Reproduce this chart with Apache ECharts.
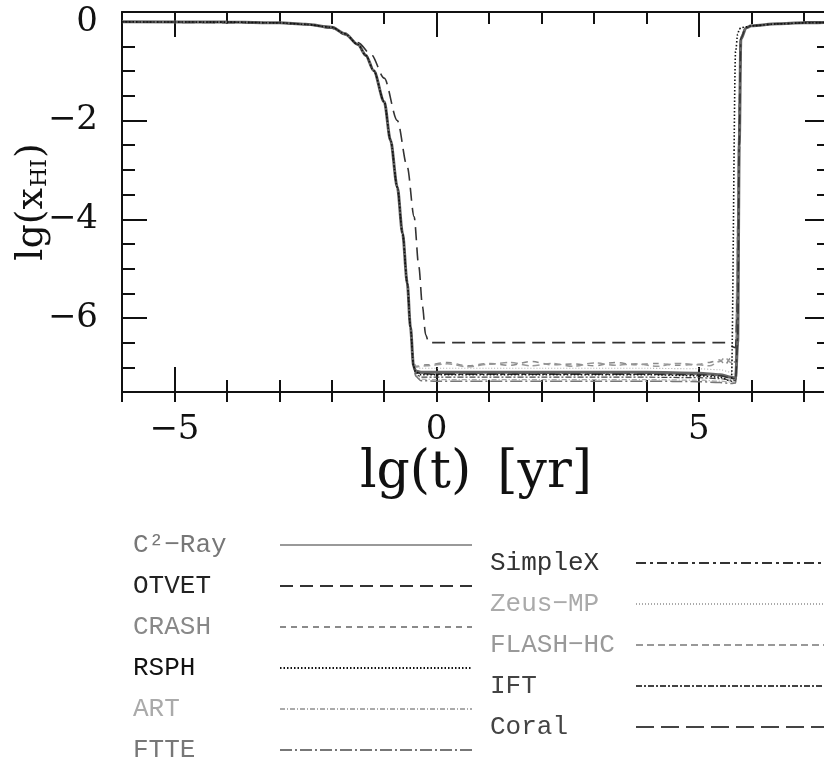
<!DOCTYPE html>
<html>
<head>
<meta charset="utf-8">
<script src="https://cdn.jsdelivr.net/npm/echarts@6/dist/echarts.min.js"></script>
<style>html,body{margin:0;padding:0;background:#fff}#chart{width:824px;height:764px}</style>
</head>
<body>
<div id="chart"></div>
<script>
// ---- data ----
const xTickLabels = [-5, 0, 5];
const yTickLabels = [0, -2, -4, -6];

const tMain = [-6, -4, -3, -2.5, -2, -1.75, -1.5, -1.35, -1.2, -1, -0.88, -0.75, -0.65, -0.56, -0.5, -0.44, -0.4, -0.3, 0, 1, 2, 3, 4, 5, 5.4, 5.62, 5.7, 5.74, 5.77, 5.8, 5.9, 6, 6.5, 7, 7.5];
const tNoisy = [-6, -4, -3, -2.5, -2, -1.75, -1.5, -1.35, -1.2, -1, -0.88, -0.75, -0.65, -0.56, -0.5, -0.44, -0.4, -0.2, 0.2, 0.6, 1.0, 1.4, 1.8, 2.2, 2.6, 3.0, 3.4, 3.8, 4.2, 4.6, 5.0, 5.2, 5.4, 5.5, 5.6, 5.7, 5.74, 5.77, 5.8, 5.9, 6, 6.5, 7, 7.5];
const tOtvet = [-6, -3, -2.5, -2, -1.75, -1.5, -1.25, -1, -0.75, -0.56, -0.43, -0.34, -0.27, -0.21, -0.15, 0, 2, 4, 5.5, 5.7, 5.74, 5.77, 5.8, 5.9, 6, 6.5, 7, 7.5];

const yC2Ray = [0, -0.005, -0.02, -0.05, -0.11, -0.24, -0.46, -0.68, -0.99, -1.62, -2.4, -3.35, -4.29, -5.3, -6.18, -6.98, -7.08, -7.1, -7.1, -7.1, -7.1, -7.1, -7.1, -7.12, -7.15, -7.2, -7.22, -6.5, -2.5, -0.35, -0.12, -0.08, -0.04, -0.02, -0.01];
const yOtvet = [0, -0.02, -0.05, -0.13, -0.26, -0.42, -0.66, -1.14, -2.0, -2.94, -3.95, -4.96, -5.77, -6.34, -6.5, -6.5, -6.5, -6.5, -6.5, -6.6, -5.5, -2.0, -0.3, -0.12, -0.08, -0.04, -0.02, -0.01];
const yCrash = [0, -0.005, -0.02, -0.05, -0.1, -0.23, -0.44, -0.66, -0.97, -1.6, -2.38, -3.33, -4.27, -5.28, -6.15, -6.9, -6.98, -6.95, -6.9, -6.97, -6.92, -6.96, -6.88, -6.95, -6.93, -6.97, -6.9, -6.95, -6.92, -6.96, -6.94, -6.9, -6.85, -6.95, -6.82, -6.9, -4.0, -1.5, -0.3, -0.12, -0.08, -0.04, -0.02, -0.01];
const yRsph = [0, -0.005, -0.02, -0.05, -0.11, -0.24, -0.46, -0.68, -0.99, -1.62, -2.4, -3.35, -4.29, -5.3, -6.18, -6.98, -7.1, -7.15, -7.15, -7.15, -7.15, -7.15, -7.15, -7.17, -7.2, -7.28, -0.6, -0.25, -0.15, -0.12, -0.1, -0.08, -0.04, -0.02, -0.01];
const yArt = [0, -0.005, -0.02, -0.05, -0.11, -0.24, -0.46, -0.68, -0.99, -1.62, -2.4, -3.35, -4.29, -5.3, -6.18, -7.0, -7.15, -7.24, -7.25, -7.25, -7.25, -7.25, -7.25, -7.26, -7.28, -7.3, -7.3, -6.5, -2.5, -0.35, -0.12, -0.08, -0.04, -0.02, -0.01];
const yFtte = [0, -0.005, -0.02, -0.05, -0.11, -0.24, -0.46, -0.68, -0.99, -1.62, -2.4, -3.35, -4.29, -5.3, -6.18, -7.0, -7.18, -7.27, -7.28, -7.28, -7.28, -7.28, -7.28, -7.29, -7.31, -7.33, -7.32, -6.6, -2.6, -0.35, -0.12, -0.08, -0.04, -0.02, -0.01];
const ySimplex = [0, -0.005, -0.02, -0.05, -0.11, -0.24, -0.46, -0.68, -0.99, -1.62, -2.4, -3.35, -4.29, -5.3, -6.18, -6.98, -7.09, -7.13, -7.14, -7.14, -7.14, -7.14, -7.14, -7.15, -7.17, -7.22, -7.24, -6.4, -2.4, -0.33, -0.12, -0.08, -0.04, -0.02, -0.01];
const yZeus = [0, -0.005, -0.02, -0.05, -0.11, -0.24, -0.46, -0.68, -0.99, -1.62, -2.4, -3.35, -4.29, -5.3, -6.18, -6.95, -7.0, -7.02, -7.02, -7.02, -7.02, -7.02, -7.02, -7.03, -7.05, -7.1, -7.15, -6.3, -2.3, -0.33, -0.12, -0.08, -0.04, -0.02, -0.01];
const yFlash = [0, -0.005, -0.02, -0.05, -0.1, -0.23, -0.45, -0.67, -0.98, -1.61, -2.39, -3.34, -4.28, -5.29, -6.16, -6.92, -6.99, -6.97, -6.93, -6.99, -6.94, -6.9, -6.97, -6.92, -6.98, -6.91, -6.96, -6.93, -6.98, -6.92, -6.95, -6.97, -6.88, -6.8, -6.9, -6.85, -4.2, -1.6, -0.3, -0.12, -0.08, -0.04, -0.02, -0.01];
const yIft = [0, -0.005, -0.02, -0.05, -0.11, -0.24, -0.46, -0.68, -0.99, -1.62, -2.4, -3.35, -4.29, -5.3, -6.18, -6.99, -7.12, -7.2, -7.2, -7.2, -7.2, -7.2, -7.2, -7.21, -7.23, -7.26, -7.27, -6.5, -2.5, -0.35, -0.12, -0.08, -0.04, -0.02, -0.01];
const yCoral = [0, -0.005, -0.02, -0.05, -0.11, -0.24, -0.46, -0.68, -0.99, -1.62, -2.4, -3.35, -4.29, -5.3, -6.18, -6.98, -7.06, -7.11, -7.12, -7.12, -7.12, -7.12, -7.12, -7.13, -7.16, -7.2, -7.22, -6.5, -2.5, -0.35, -0.12, -0.08, -0.04, -0.02, -0.01];

const namesLeft = ['C²−Ray', 'OTVET', 'CRASH', 'RSPH', 'ART', 'FTTE'];
const namesRight = ['SimpleX', 'Zeus−MP', 'FLASH−HC', 'IFT', 'Coral'];

// ---- styling ----
const SERIF = "'DejaVu Serif', 'Liberation Serif', serif";
const MONO = "'Liberation Mono', 'DejaVu Sans Mono', monospace";
const styles = {
  'C²−Ray':   { color: '#666', width: 3, type: 'solid', text: '#777' },
  'OTVET':    { color: '#333', width: 1.6, type: [13, 7], text: '#222' },
  'CRASH':    { color: '#8a8a8a', width: 1.5, type: [6, 5], text: '#888' },
  'RSPH':     { color: '#111', width: 1.6, type: [1.5, 2], text: '#111' },
  'ART':      { color: '#aaa', width: 1.2, type: [5, 2, 1, 2], text: '#aaa' },
  'FTTE':     { color: '#777', width: 1.5, type: [12, 3, 2, 3], text: '#777' },
  'SimpleX':  { color: '#333', width: 1.5, type: [10, 4, 3, 4], text: '#333' },
  'Zeus−MP':  { color: '#aaa', width: 1.1, type: [1, 2], text: '#aaa' },
  'FLASH−HC': { color: '#999', width: 1.5, type: [7, 4], text: '#999' },
  'IFT':      { color: '#444', width: 1.2, type: [6, 2, 2, 2], text: '#444' },
  'Coral':    { color: '#444', width: 1.6, type: [18, 7], text: '#444' }
};

function pairs(t, y) { return t.map((v, i) => [v, y[i]]); }
const seriesData = [
  ['Zeus−MP', tMain, yZeus],
  ['ART', tMain, yArt],
  ['FTTE', tMain, yFtte],
  ['CRASH', tNoisy, yCrash],
  ['FLASH−HC', tNoisy, yFlash],
  ['IFT', tMain, yIft],
  ['Coral', tMain, yCoral],
  ['OTVET', tOtvet, yOtvet],
  ['C²−Ray', tMain, yC2Ray],
  ['SimpleX', tMain, ySimplex],
  ['RSPH', tMain, yRsph]
];

const series = seriesData.map(([name, t, y]) => ({
  name, type: 'line', xAxisIndex: 0, yAxisIndex: 0,
  data: pairs(t, y), symbol: 'none', smooth: 0.3, smoothMonotone: 'x',
  lineStyle: { color: styles[name].color, width: styles[name].width, type: styles[name].type },
  itemStyle: { color: styles[name].color },
  emphasis: { disabled: true }, silent: true, animation: false
}));

const minus = v => (v < 0 ? '−' + Math.abs(v) : String(v));
const AX = { color: '#111', width: 2 };
const XMIN = -6, XMAX = 7.5, YMIN = -7.5, YMAX = 0.2;

function xAx(extra) {
  return Object.assign({ type: 'value', min: XMIN, max: XMAX, interval: 1, offset: 0, splitLine: { show: false },
    axisLine: { show: false, onZero: false }, axisLabel: { show: false }, axisTick: { show: false } }, extra);
}
function yAx(extra) {
  return Object.assign({ type: 'value', min: YMIN, max: YMAX, interval: 0.5, offset: 0, splitLine: { show: false },
    axisLine: { show: false, onZero: false }, axisLabel: { show: false }, axisTick: { show: false } }, extra);
}

const legendBase = {
  orient: 'vertical', align: 'right', padding: 0, itemHeight: 14, itemGap: 15,
  selectedMode: false, itemStyle: { opacity: 0 },
  formatter: n => '{t|' + n + '}'
};
function legendData(list) {
  return list.map(n => {
    const d = { name: n, textStyle: { color: styles[n].text } };
    if (n === 'C²−Ray') d.lineStyle = { width: 1.5, color: '#777' };
    return d;
  });
}
function legendText(w) {
  return { fontFamily: MONO, fontSize: 26, width: w,
    rich: { t: { fontFamily: MONO, fontSize: 26, width: w, align: 'left' } } };
}

const option = {
  animation: false,
  backgroundColor: '#fff',
  grid: { left: 122, top: 12, right: -6, bottom: 372, containLabel: false, outerBoundsMode: 'none' },
  xAxis: [
    xAx({ position: 'bottom', axisLine: { show: true, onZero: false, lineStyle: AX },
      axisTick: { show: true, inside: true, length: 12, lineStyle: AX },
      axisLabel: { show: true, margin: 21, fontSize: 34, fontFamily: SERIF, color: '#111',
        formatter: v => (xTickLabels.indexOf(v) >= 0 ? minus(v) : '') },
      name: 'lg(t)\u2002[yr]', nameLocation: 'middle', nameGap: 48,
      nameTextStyle: { fontSize: 52, fontFamily: SERIF, color: '#111' } }),
    xAx({ position: 'bottom', axisTick: { show: true, inside: true, length: 25, lineStyle: AX, customValues: xTickLabels } }),
    xAx({ position: 'bottom', axisTick: { show: true, inside: false, length: 10, lineStyle: AX } }),
    xAx({ position: 'top', axisLine: { show: true, onZero: false, lineStyle: AX },
      axisTick: { show: true, inside: true, length: 12, lineStyle: AX } }),
    xAx({ position: 'top', axisTick: { show: true, inside: true, length: 25, lineStyle: AX, customValues: xTickLabels } })
  ],
  yAxis: [
    yAx({ position: 'left', axisLine: { show: true, onZero: false, lineStyle: AX },
      axisTick: { show: true, inside: true, length: 13, lineStyle: AX },
      axisLabel: { show: true, margin: 24, fontSize: 34, fontFamily: SERIF, color: '#111',
        formatter: v => (yTickLabels.indexOf(v) >= 0 ? minus(v) : '') },
      name: '{a|lg(x}{s|HI}{a|)}', nameLocation: 'middle', nameGap: 71, nameMoveOverlap: false,
      nameTextStyle: { color: '#111', fontFamily: SERIF,
        rich: { a: { fontSize: 38, fontFamily: SERIF, color: '#111' },
                s: { fontSize: 22, fontFamily: SERIF, color: '#111', verticalAlign: 'bottom', padding: [0, 1, 0, 1] } } } }),
    yAx({ position: 'left', axisTick: { show: true, inside: true, length: 25, lineStyle: AX, customValues: yTickLabels } }),
    yAx({ position: 'right', axisLine: { show: true, onZero: false, lineStyle: AX },
      axisTick: { show: true, inside: true, length: 13, lineStyle: AX } }),
    yAx({ position: 'right', axisTick: { show: true, inside: true, length: 25, lineStyle: AX, customValues: yTickLabels } })
  ],
  legend: [
    Object.assign({}, legendBase, { left: 133, top: 532, height: 232, itemWidth: 192,
      textStyle: legendText(142), data: legendData(namesLeft) }),
    Object.assign({}, legendBase, { left: 490, top: 550, height: 214, itemWidth: 200,
      textStyle: legendText(141), data: legendData(namesRight) })
  ],
  series
};

const chart = echarts.init(document.getElementById('chart'), null, { renderer: 'canvas' });
chart.setOption(option);
</script>
</body>
</html>
